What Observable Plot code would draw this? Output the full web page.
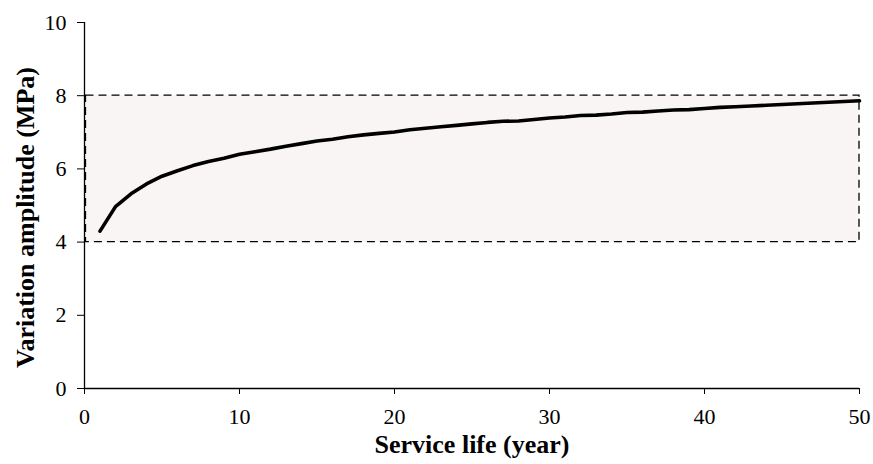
<!DOCTYPE html>
<html>
<head>
<meta charset="utf-8">
<script src="https://cdn.jsdelivr.net/npm/d3@7"></script>
<script src="https://cdn.jsdelivr.net/npm/@observablehq/plot@0.6"></script>
<style>
  html, body { margin: 0; padding: 0; background: #ffffff; }
</style>
</head>
<body>
<div id="chart"></div>
<script>
// Service life (years)
const years = d3.range(1, 51);
// Variation amplitude (MPa)
const amplitude = [
  4.30, 4.97, 5.32, 5.59, 5.80, 5.95, 6.09, 6.20, 6.29, 6.40,
  6.47, 6.54, 6.62, 6.69, 6.76, 6.81, 6.88, 6.93, 6.97, 7.01,
  7.07, 7.11, 7.15, 7.19, 7.23, 7.27, 7.30, 7.31, 7.35, 7.39,
  7.42, 7.46, 7.47, 7.50, 7.54, 7.55, 7.58, 7.61, 7.62, 7.65,
  7.68, 7.70, 7.72, 7.74, 7.76, 7.78, 7.80, 7.82, 7.84, 7.86
];
// Band (dashed box) limits
const bandYears = [0, 50];
const bandAmplitude = [4, 8];
// Tick labels
const xTicks = [0, 10, 20, 30, 40, 50];
const yTicks = [0, 2, 4, 6, 8, 10];
const xTitle = "Service life (year)";
const yTitle = "Variation amplitude (MPa)";

const data = years.map((t, i) => ({year: t, amp: amplitude[i]}));
const band = [{x1: bandYears[0], x2: bandYears[1], y1: bandAmplitude[0], y2: bandAmplitude[1]}];

const chart = Plot.plot({
  width: 873,
  height: 464,
  marginLeft: 84,
  marginRight: 14,
  marginTop: 22,
  marginBottom: 76,
  style: {fontFamily: "'Liberation Serif', 'Times New Roman', serif", fontSize: "22px", color: "#000", background: "#fff"},
  x: {domain: [0, 50]},
  y: {domain: [0, 10]},
  marks: [
    Plot.rect(band, {x1: "x1", x2: "x2", y1: "y1", y2: "y2", insetLeft: 1.5, fill: "#f8f5f4", stroke: "#000", strokeWidth: 1.3, strokeDasharray: "8,5"}),
    Plot.line(data, {x: "year", y: "amp", stroke: "#000", strokeWidth: 3.6}),
    Plot.ruleX([0], {stroke: "#000", strokeWidth: 1.3}),
    Plot.ruleY([0], {stroke: "#000", strokeWidth: 1.3}),
    Plot.axisX({ticks: xTicks, tickSize: 6, tickPadding: 14, tickFormat: d => String(d), label: null, fontSize: 22, stroke: "#000"}),
    Plot.axisY({ticks: yTicks, tickSize: 7, tickPadding: 11, tickFormat: d => String(d), label: null, fontSize: 22, stroke: "#000"}),
    Plot.text([xTitle], {frameAnchor: "bottom", dy: 64, text: d => d, textAnchor: "middle", fontWeight: "bold", fontSize: 26, fill: "#000"}),
    Plot.text([yTitle], {frameAnchor: "left", dx: -59, dy: 12, rotate: -90, text: d => d, textAnchor: "middle", lineAnchor: "middle", fontWeight: "bold", fontSize: 26, fill: "#000"})
  ]
});
document.getElementById("chart").appendChild(chart);
</script>
</body>
</html>
